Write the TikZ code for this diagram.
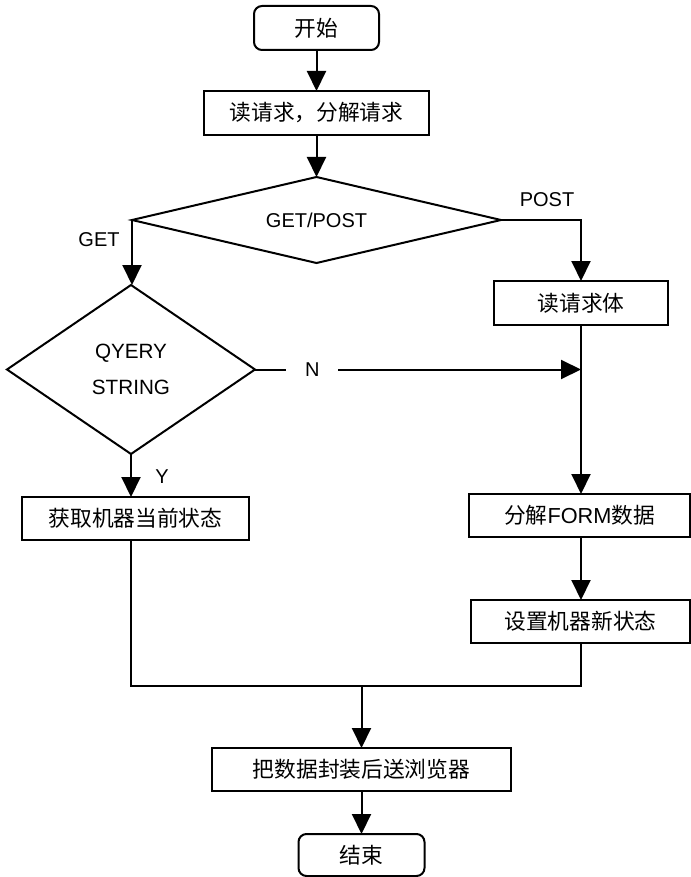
\documentclass[tikz,border=0pt]{standalone}
\usepackage{fontspec}
\setmainfont{Liberation Sans}
\newfontfamily\cjk{Noto Sans CJK SC}
\usetikzlibrary{shapes.geometric,arrows.meta}
\begin{document}
\begin{tikzpicture}[x=0.75pt,y=-0.75pt,
  line width=1.5pt,
  every node/.style={inner sep=0pt, outer sep=0pt},
  box/.style={draw, rectangle, minimum height=32.5pt},
  rbox/.style={box, rounded corners=6pt},
  dia/.style={draw, diamond},
  arr/.style={-{Triangle[width=14.25pt,length=15pt]}},
  cn/.style={font=\cjk\fontsize{16.3}{20}\selectfont},
  lt/.style={font=\fontsize{15}{18}\selectfont}
]
\useasboundingbox (0,0) rectangle (691,877);

% nodes
\node[rbox, cn, minimum width=93.75pt, minimum height=33pt] (start) at (316.5,28) {开始};
\node[box, cn, minimum width=168.75pt, minimum height=33pt] (req) at (316.5,113) {读请求，分解请求};
\node[dia, lt, aspect=4.3, minimum width=276.75pt, minimum height=64.5pt] (d1) at (316.5,220) {GET/POST};
\node[box, cn, minimum width=130.5pt, minimum height=33pt] (body) at (581,303) {读请求体};
\node[dia, lt, aspect=1.47, minimum width=186pt, minimum height=126.75pt, align=center,
      font=\fontsize{15.5}{27}\selectfont] (d2) at (131,369.5) {QYERY\\STRING};
\node[box, cn, minimum width=170.25pt, minimum height=32.25pt] (get) at (135.5,518.5) {获取机器当前状态};
\node[box, minimum width=165.75pt, minimum height=32.25pt, font=\fontsize{16.3}{20}\selectfont] (form) at (579.5,515.5) {{\cjk 分解}FORM{\cjk 数据}};
\node[box, cn, minimum width=164.25pt, minimum height=32.25pt] (set) at (580.5,621.5) {设置机器新状态};
\node[box, cn, minimum width=224.25pt, minimum height=32.25pt] (send) at (361.5,769.5) {把数据封装后送浏览器};
\node[rbox, cn, minimum width=94.5pt, minimum height=31.5pt] (end) at (361.5,855) {结束};

% labels
\node[lt] (lget) at (99,240) {GET};
\node[lt] (lpost) at (547,200) {POST};
\node[lt] (ly) at (162,477) {Y};

\coordinate (join) at (361.5,686);
\coordinate (vx) at (body.south);

% connectors
\draw[arr] (start) -- (req);
\draw[arr] (req) -- (d1.north);
\draw[arr] (d1.west) -- (d1.west |- d2.north);
\draw[arr] (d1.east) -| (body.north);
\draw[arr] (body.south) -- (form.north -| vx);
\draw[arr] (d2.east) -- node[lt, pos=0.176, fill=white, minimum width=39pt] (ln) {N} (d2.east -| vx);
\draw[arr] (d2.south) -- (d2.south |- get.north);
\draw[arr] (form.south -| vx) -- (set.north -| vx);
\draw (d2.south |- get.south) -- (d2.south |- join) -- (join -| vx) -- (set.south -| vx);
\draw[arr] (join) -- (send.north);
\draw[arr] (send.south) -- (send.south |- end.north);
\end{tikzpicture}
\end{document}
